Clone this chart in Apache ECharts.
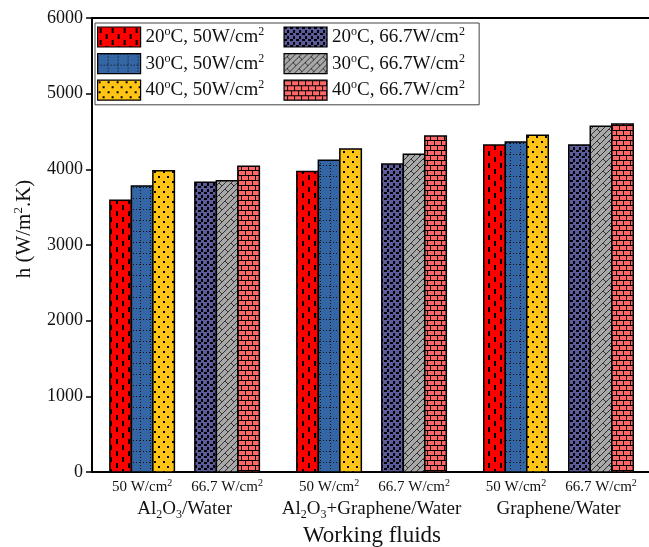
<!DOCTYPE html>
<html><head><meta charset="utf-8">
<script src="https://cdn.jsdelivr.net/npm/echarts@6/dist/echarts.min.js"></script>
<style>html,body{margin:0;padding:0;background:#fff}#c{width:649px;height:547px}</style>
</head><body><div id="c"></div>
<script>
// ---- data ----
const fluids = ['Al2O3/Water', 'Al2O3+Graphene/Water', 'Graphene/Water'];
const heatFluxes = ['50', '66.7'];
const temps = ['20', '30', '40'];
const h_20C_50   = [3590, 3970, 4320];
const h_30C_50   = [3780, 4120, 4360];
const h_40C_50   = [3980, 4270, 4450];
const h_20C_66_7 = [3830, 4070, 4320];
const h_30C_66_7 = [3850, 4200, 4570];
const h_40C_66_7 = [4040, 4440, 4600];
const yTicks = [0, 1000, 2000, 3000, 4000, 5000, 6000];

// ---- layout constants (not data) ----
const fluidPos = [1.5, 3.7, 5.9];
const fluxOffset = [-0.5, 0.5];
const BAR_W = 0.253;
const FONT = 'Liberation Serif';

function pat(w, h, bg, draw) {
  const c = document.createElement('canvas'); c.width = w; c.height = h;
  const g = c.getContext('2d');
  g.fillStyle = bg; g.fillRect(0, 0, w, h);
  g.fillStyle = '#000'; g.strokeStyle = '#000';
  draw(g);
  return { image: c, repeat: 'repeat' };
}
const patterns = [
  pat(12, 12, '#ff0000', g => { g.fillRect(2, 1, 2, 5); g.fillRect(8, 7, 2, 5); }),
  pat(10, 11, '#3465a4', g => { g.fillStyle = '#111'; for (let x = 0; x < 10; x += 3) g.fillRect(x, 0, 1, 1); for (let y = 0; y < 11; y += 3) g.fillRect(0, y, 1, 1); }),
  pat(9, 10, '#ffc414', g => { g.fillRect(1, 1, 2, 2); g.fillRect(5, 6, 2, 2); }),
  pat(6, 6, '#5c5c9c', g => { g.fillRect(0, 0, 3, 2); g.fillRect(3, 3, 2, 3); }),
  pat(12, 12, '#a8a8a8', g => { g.strokeStyle = '#333'; g.lineWidth = 1;
      g.beginPath(); g.moveTo(0, 12); g.lineTo(12, 0); g.moveTo(-6, 12); g.lineTo(6, 0); g.moveTo(6, 12); g.lineTo(18, 0);
      g.moveTo(3, 3); g.lineTo(6, 6); g.moveTo(9, 9); g.lineTo(12, 12); g.stroke(); }),
  pat(14, 10, '#ff6666', g => { g.fillRect(0, 0, 14, 1); g.fillRect(0, 5, 14, 1); g.fillRect(0, 0, 1, 5); g.fillRect(7, 0, 1, 5); g.fillRect(3, 5, 1, 5); g.fillRect(10, 5, 1, 5); })
];

const seriesDefs = [
  { t: 0, f: 0, vals: h_20C_50 }, { t: 1, f: 0, vals: h_30C_50 }, { t: 2, f: 0, vals: h_40C_50 },
  { t: 0, f: 1, vals: h_20C_66_7 }, { t: 1, f: 1, vals: h_30C_66_7 }, { t: 2, f: 1, vals: h_40C_66_7 }
];
const seriesName = d => temps[d.t] + '°C, ' + heatFluxes[d.f] + 'W/cm²';

const sup = { fontSize: 12, verticalAlign: 'top', fontFamily: FONT, color: '#111' };
const sub = { fontSize: 12, verticalAlign: 'bottom', fontFamily: FONT, color: '#111' };

// chemical formula: digits become subscripts
const fluidRich = name => name.split(/(\d)/).filter(s => s.length).map(s => /^\d$/.test(s) ? '{b|' + s + '}' : '{n|' + s + '}').join('');

const series = seriesDefs.map((d, i) => ({
  type: 'custom', name: seriesName(d), xAxisIndex: 0, yAxisIndex: 0,
  itemStyle: { color: patterns[i], borderColor: '#000', borderWidth: 1.5 },
  encode: { x: 0, y: 1 },
  data: d.vals.map((v, j) => [fluidPos[j] + fluxOffset[d.f], v]),
  renderItem: (params, api) => {
    const p = api.value(0), v = api.value(1);
    const base = api.coord([p, 0]), top = api.coord([p, v]);
    const bw = api.size([BAR_W, 0])[0];
    return { type: 'rect', shape: { x: base[0] + (d.t - 1) * bw - bw / 2, y: top[1], width: bw, height: base[1] - top[1] },
      style: { fill: patterns[i], stroke: '#000', lineWidth: 1.5 } };
  }
}));

const subPositions = [];
fluidPos.forEach(p => fluxOffset.forEach(o => subPositions.push(p + o)));

const chart = echarts.init(document.getElementById('c'));
chart.setOption({
  animation: false,
  textStyle: { fontFamily: FONT },
  grid: { left: 92, right: -3, top: 18, bottom: 75, containLabel: false, outerBoundsMode: 'none' },
  legend: {
    orient: 'vertical', left: 95, top: 23, height: 78, itemGap: 5,
    padding: [3, 0, 4, 2], backgroundColor: '#fff', borderColor: '#444', borderWidth: 1,
    itemWidth: 43, itemHeight: 20, icon: 'rect',
    itemStyle: { borderColor: '#000', borderWidth: 1.2 },
    data: series.map(s => s.name),
    formatter: name => { const m = name.match(/^(\d+)°C, (.*)W\/cm²$/); return '{n|' + m[1] + '}{s|o}{n|C, ' + m[2] + 'W/cm}{s|2}{p|\u00a0\u00a0\u00a0}'; },
    textStyle: { rich: { n: { fontSize: 19, lineHeight: 22, fontFamily: FONT, color: '#111' }, s: sup, p: { fontSize: 19, fontFamily: FONT } } }
  },
  xAxis: [
    { type: 'value', position: 'bottom', min: 0.41, max: 7.0,
      axisLine: { show: true, onZero: false, lineStyle: { color: '#000', width: 2 } },
      axisTick: { show: false }, splitLine: { show: false },
      axisLabel: { show: true, customValues: subPositions, margin: 6,
        formatter: v => { const idx = subPositions.findIndex(q => Math.abs(q - v) < 1e-6); return '{n|' + heatFluxes[idx % 2] + ' W/cm}{s|2}'; },
        rich: { n: { fontSize: 15, lineHeight: 19, fontFamily: FONT, color: '#111' }, s: { fontSize: 10, verticalAlign: 'top', fontFamily: FONT, color: '#111' } } },
      name: 'Working fluids', nameLocation: 'middle', nameGap: 52,
      nameTextStyle: { fontSize: 23, fontFamily: FONT, color: '#111' } },
    { type: 'value', position: 'bottom', offset: 23, min: 0.41, max: 7.0,
      axisLine: { show: false }, axisTick: { show: false }, splitLine: { show: false },
      axisLabel: { show: true, customValues: fluidPos, margin: 2,
        formatter: v => { const idx = fluidPos.findIndex(q => Math.abs(q - v) < 1e-6); return fluidRich(fluids[idx]); },
        rich: { n: { fontSize: 19, lineHeight: 24, fontFamily: FONT, color: '#111' }, b: sub } } },
    { type: 'value', position: 'top', min: 0.41, max: 7.0,
      axisLine: { show: true, onZero: false, lineStyle: { color: '#000', width: 2 } },
      axisTick: { show: false }, axisLabel: { show: false }, splitLine: { show: false } }
  ],
  yAxis: {
    type: 'value', min: yTicks[0], max: yTicks[yTicks.length - 1], interval: yTicks[1] - yTicks[0],
    axisLine: { show: true, lineStyle: { color: '#000', width: 2 } },
    axisTick: { show: true, inside: false, length: 6, lineStyle: { color: '#000', width: 1.5 } },
    splitLine: { show: false },
    axisLabel: { fontSize: 18, color: '#111', margin: 9, fontFamily: FONT, formatter: v => String(v) },
    name: '{n|h (W/m}{s|2}{n|.K)}', nameLocation: 'middle', nameGap: 56, nameRotate: 90,
    nameTextStyle: { padding: [0, 0, 0, 32], rich: { n: { fontSize: 21, lineHeight: 24, fontFamily: FONT, color: '#111' }, s: { fontSize: 13, verticalAlign: 'top', fontFamily: FONT, color: '#111' } } }
  },
  series: series
});
</script></body></html>
